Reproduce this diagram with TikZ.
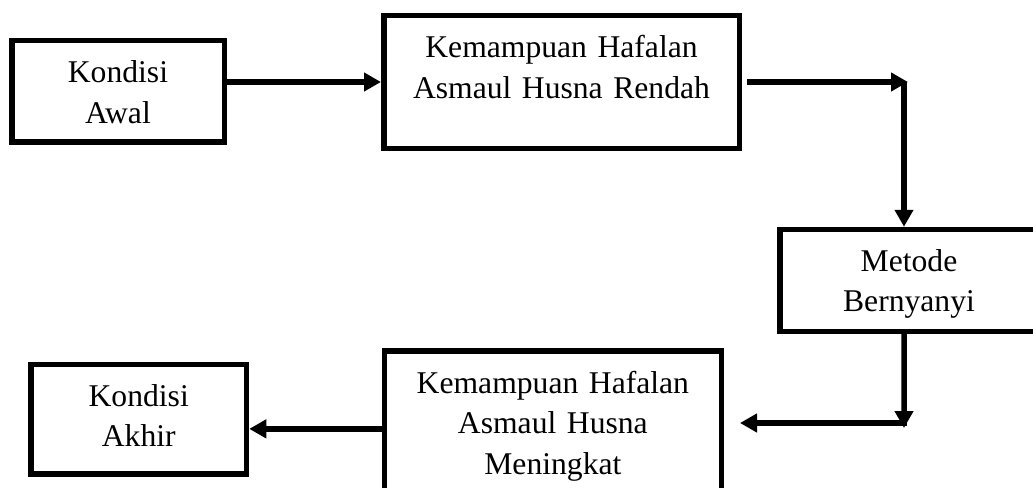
\documentclass[tikz,border=0pt]{standalone}
\usepackage{fontspec}
\setmainfont{Liberation Serif}
\usetikzlibrary{calc}
\usetikzlibrary{positioning}
\usetikzlibrary{arrows.meta}
\tikzset{
  kotak/.style = {draw, line width=0.11cm, rectangle, inner sep=0pt, align=center,
                  font=\fontsize{18pt}{23.25pt}\selectfont},
  panah/.style = {line width=0.11cm, -{Triangle[length=0.34cm, width=0.36cm]}}
}

\begin{document}
\begin{tikzpicture}
      \clip (0,0) rectangle (20.66,-9.76);

      \node[kotak, text width=4.25cm, text height=0.845cm, text depth=1.185cm] (awal) at (2.36,-1.83) {Kondisi\\Awal};
      \node[kotak, text width=7.11cm, text height=0.8475cm, text depth=1.8075cm] (rendah) at (11.23,-1.64) {Kemampuan Hafalan\\Asmaul Husna Rendah};
      \node[kotak, text width=5.17cm, text height=0.83cm, text depth=1.205cm] (metode) at (18.18,-5.6075) {Metode\\Bernyanyi};
      \node[kotak, text width=6.735cm, text height=0.845cm, text depth=2.28cm] (meningkat) at (11.0575,-8.5775) {Kemampuan Hafalan\\Asmaul Husna\\Meningkat};
      \node[kotak, text width=4.31cm, text height=0.83cm, text depth=1.36cm] (akhir) at (2.775,-8.385) {Kondisi\\Akhir};

      \coordinate (drop) at ([xshift=-0.1cm]metode.north);
      \coordinate (turn1) at (drop |- rendah.east);
      \coordinate (bend) at (18.08,-8.46);
      \coordinate (into) at (14.80,-8.46);

      \draw[panah] (awal.east |- rendah.west) -- (rendah.west);
      \draw[panah] ([xshift=0.1cm]rendah.east) -- ([xshift=0.08cm]turn1);
      \draw[panah] (turn1) -- (drop);
      \draw[panah] (drop |- metode.south) -- ([yshift=-0.1cm]bend);
      \draw[panah] ([xshift=0.06cm]bend) -- (into);
      \draw[panah] (meningkat.west) -- (meningkat.west -| akhir.east);
    \end{tikzpicture}
\end{document}
